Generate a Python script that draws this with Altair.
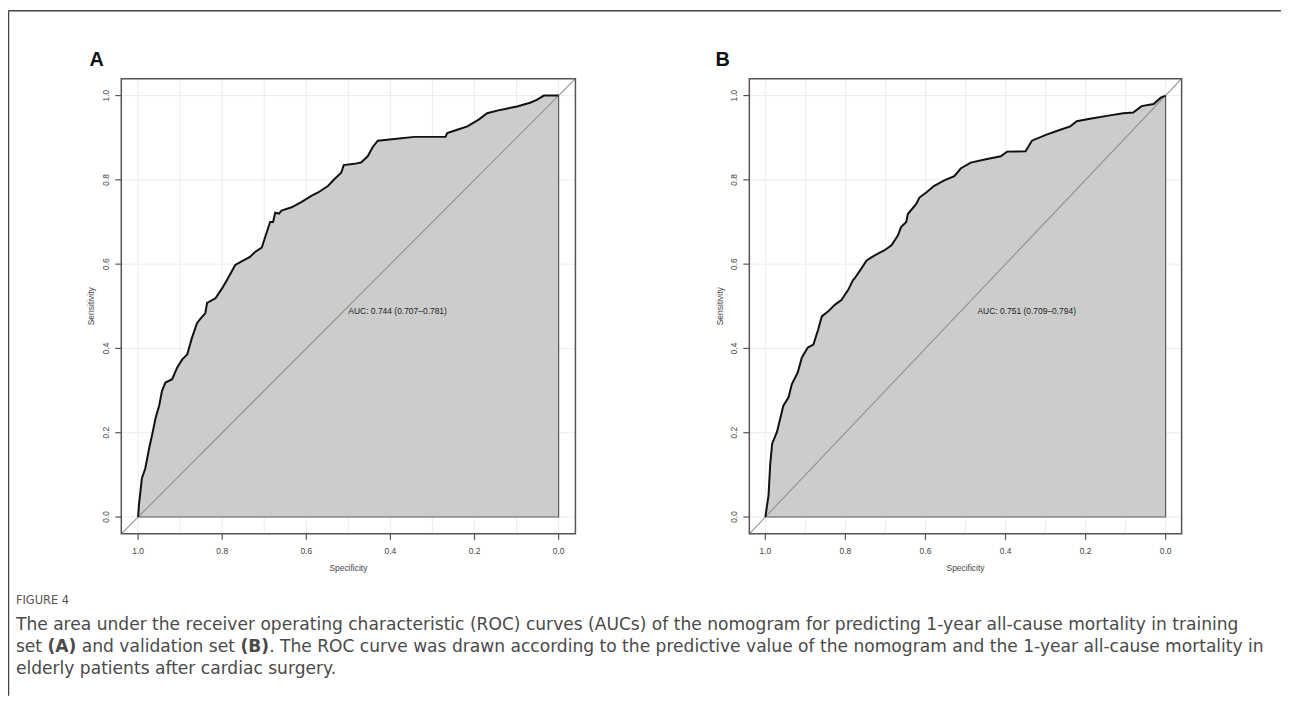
import altair as alt
import pandas as pd

# ---------------- data ----------------
spec_A = [1.000, 0.998, 0.991, 0.983, 0.974, 0.966, 0.958, 0.950, 0.943, 0.935,
          0.919, 0.907, 0.895, 0.883, 0.872, 0.860, 0.852, 0.840, 0.836, 0.816,
          0.800, 0.789, 0.785, 0.769, 0.757, 0.734, 0.722, 0.706, 0.698, 0.686,
          0.679, 0.674, 0.665, 0.659, 0.635, 0.612, 0.588, 0.572, 0.548, 0.533,
          0.517, 0.511, 0.486, 0.470, 0.454, 0.442, 0.430, 0.391, 0.343, 0.269,
          0.265, 0.241, 0.217, 0.190, 0.170, 0.139, 0.099, 0.068, 0.052, 0.035,
          0.000]
sens_A = [0.000, 0.029, 0.092, 0.115, 0.162, 0.198, 0.237, 0.264, 0.300, 0.319,
          0.327, 0.355, 0.374, 0.386, 0.425, 0.460, 0.470, 0.484, 0.508, 0.519,
          0.543, 0.562, 0.569, 0.598, 0.605, 0.617, 0.629, 0.639, 0.664, 0.700,
          0.700, 0.722, 0.720, 0.727, 0.735, 0.747, 0.762, 0.770, 0.786, 0.802,
          0.817, 0.835, 0.838, 0.841, 0.856, 0.878, 0.893, 0.897, 0.902, 0.902,
          0.911, 0.919, 0.927, 0.943, 0.958, 0.966, 0.974, 0.983, 0.990, 1.000,
          1.000]

spec_B = [1.000, 0.992, 0.988, 0.983, 0.971, 0.963, 0.955, 0.942, 0.934, 0.919,
          0.909, 0.894, 0.880, 0.868, 0.859, 0.843, 0.826, 0.810, 0.793, 0.781,
          0.777, 0.760, 0.747, 0.727, 0.702, 0.685, 0.669, 0.661, 0.648, 0.644,
          0.623, 0.615, 0.598, 0.578, 0.553, 0.528, 0.512, 0.487, 0.449, 0.412,
          0.396, 0.350, 0.334, 0.296, 0.263, 0.238, 0.222, 0.189, 0.139, 0.106,
          0.081, 0.060, 0.030, 0.012, 0.000]
sens_B = [0.000, 0.052, 0.123, 0.174, 0.202, 0.233, 0.264, 0.284, 0.315, 0.343,
          0.378, 0.402, 0.409, 0.445, 0.476, 0.488, 0.504, 0.515, 0.539, 0.562,
          0.566, 0.590, 0.609, 0.621, 0.633, 0.645, 0.668, 0.688, 0.700, 0.719,
          0.743, 0.758, 0.770, 0.786, 0.799, 0.809, 0.827, 0.841, 0.849, 0.856,
          0.867, 0.868, 0.893, 0.908, 0.919, 0.927, 0.939, 0.945, 0.953, 0.958,
          0.960, 0.975, 0.980, 0.995, 1.000]

tick_values = [0.0, 0.2, 0.4, 0.6, 0.8, 1.0]
tick_labels = ["0.0", "0.2", "0.4", "0.6", "0.8", "1.0"]
vgrid_values = [0.0, 0.1, 0.2, 0.3, 0.4, 0.5, 0.6, 0.7, 0.8, 0.9, 1.0]
hgrid_values = [0.0, 0.2, 0.4, 0.6, 0.8, 1.0]
axis_domain = [-0.04, 1.04]

auc_A = "AUC: 0.744 (0.707\u20130.781)"
auc_B = "AUC: 0.751 (0.709\u20130.794)"
auc_pos_A = (0.50, 0.489)
auc_pos_B = (0.47, 0.489)

x_title = "Specificity"
y_title = "Sensitivity"

caption_head = "FIGURE 4"
caption_line1 = ("The area under the receiver operating characteristic (ROC) curves (AUCs) of the "
                 "nomogram for predicting 1-year all-cause mortality in training")
caption_line2_parts = [("set", "normal"), ("(A)", "bold"), ("and validation set", "normal"),
                       ("(B)", "bold"),
                       (". The ROC curve was drawn according to the predictive value of the nomogram "
                        "and the 1-year all-cause mortality in", "normal")]
caption_line3 = "elderly patients after cardiac surgery."

# ---------------- layout ----------------
W, H = 1281, 690
BOX_TOP, BOX_BOT = 69, 527
PANEL_A_BOX = (114, 571)
PANEL_B_BOX = (746, 1181)
AXIS_FONT = "Liberation Sans"
CAP_FONT = "DejaVu Sans"
CAP_SIZE = 17.2
one = pd.DataFrame({"k": [0]})


def panel(spec, sens, box, auc_text, auc_pos, label, label_x):
    x0, x1 = box
    xs = alt.Scale(domain=[axis_domain[1], axis_domain[0]], range=[x0, x1], nice=False, zero=False)
    ys = alt.Scale(domain=axis_domain, range=[BOX_BOT, BOX_TOP], nice=False, zero=False)

    def X(f):
        return alt.X(f, scale=xs, axis=None)

    def Y(f):
        return alt.Y(f, scale=ys, axis=None)

    roc = pd.DataFrame({"spec": spec, "sens": sens, "i": list(range(len(spec)))})
    roc["base"] = 0.0
    layers = []
    layers.append(alt.Chart(pd.DataFrame({"v": vgrid_values})).mark_rule(color="#ececec", strokeWidth=1)
                  .encode(x=X("v:Q"), y=alt.value(BOX_TOP), y2=alt.value(BOX_BOT)))
    layers.append(alt.Chart(pd.DataFrame({"v": hgrid_values})).mark_rule(color="#ececec", strokeWidth=1)
                  .encode(y=Y("v:Q"), x=alt.value(x0), x2=alt.value(x1)))
    layers.append(alt.Chart(roc).mark_area(color="#cccccc", opacity=1)
                  .encode(x=X("spec:Q"), y=Y("sens:Q"), y2="base:Q"))
    edge = pd.DataFrame({"x": [spec[0], spec[-1], spec[-1]],
                         "y": [0.0, 0.0, sens[-1]], "i": [0, 1, 2]})
    layers.append(alt.Chart(edge).mark_line(color="#5a5a5a", strokeWidth=1.2)
                  .encode(x=X("x:Q"), y=Y("y:Q"), order="i:Q"))
    diag = pd.DataFrame({"x": [axis_domain[1], axis_domain[0]],
                         "y": [1 - axis_domain[1], 1 - axis_domain[0]], "i": [0, 1]})
    layers.append(alt.Chart(diag).mark_line(color="#909090", strokeWidth=1.1)
                  .encode(x=X("x:Q"), y=Y("y:Q"), order="i:Q"))
    layers.append(alt.Chart(roc).mark_line(color="#111111", strokeWidth=2)
                  .encode(x=X("spec:Q"), y=Y("sens:Q"), order="i:Q"))
    layers.append(alt.Chart(one).mark_rect(fillOpacity=0, stroke="#555555", strokeWidth=1.5)
                  .encode(x=alt.value(x0), x2=alt.value(x1), y=alt.value(BOX_TOP), y2=alt.value(BOX_BOT)))
    ticks = pd.DataFrame({"t": tick_values, "lab": tick_labels})
    layers.append(alt.Chart(ticks).mark_rule(color="#555555", strokeWidth=1.2)
                  .encode(x=X("t:Q"), y=alt.value(BOX_BOT), y2=alt.value(BOX_BOT + 6)))
    layers.append(alt.Chart(ticks).mark_text(font=AXIS_FONT, fontSize=8.5, color="#444444", baseline="middle")
                  .encode(x=X("t:Q"), y=alt.value(BOX_BOT + 17), text="lab:N"))
    layers.append(alt.Chart(ticks).mark_rule(color="#555555", strokeWidth=1.2)
                  .encode(y=Y("t:Q"), x=alt.value(x0 - 6), x2=alt.value(x0)))
    layers.append(alt.Chart(ticks).mark_text(font=AXIS_FONT, fontSize=8.5, color="#444444", baseline="middle",
                                             angle=270)
                  .encode(y=Y("t:Q"), x=alt.value(x0 - 15), text="lab:N"))
    layers.append(alt.Chart(pd.DataFrame({"p": [0.5], "t": [x_title]}))
                  .mark_text(font=AXIS_FONT, fontSize=8.5, color="#444444", baseline="middle")
                  .encode(x=X("p:Q"), y=alt.value(BOX_BOT + 34), text="t:N"))
    layers.append(alt.Chart(pd.DataFrame({"p": [0.5], "t": [y_title]}))
                  .mark_text(font=AXIS_FONT, fontSize=8.5, color="#444444", baseline="middle", angle=270)
                  .encode(y=Y("p:Q"), x=alt.value(x0 - 30), text="t:N"))
    layers.append(alt.Chart(pd.DataFrame({"x": [auc_pos[0]], "y": [auc_pos[1]], "t": [auc_text]}))
                  .mark_text(font=AXIS_FONT, fontSize=8.5, color="#222222", align="left", baseline="middle")
                  .encode(x=X("x:Q"), y=Y("y:Q"), text="t:N"))
    layers.append(alt.Chart(pd.DataFrame({"t": [label]}))
                  .mark_text(font="Liberation Sans", fontSize=20, fontWeight="bold", color="#111111",
                             align="left", baseline="alphabetic")
                  .encode(x=alt.value(label_x), y=alt.value(56), text="t:N"))
    return layers


layers = []
layers += panel(spec_A, sens_A, PANEL_A_BOX, auc_A, auc_pos_A, "A", 82)
layers += panel(spec_B, sens_B, PANEL_B_BOX, auc_B, auc_pos_B, "B", 712)

# figure frame (top and left edges)
layers.append(alt.Chart(one).mark_rule(color="#444444", strokeWidth=1.5)
              .encode(x=alt.value(0.5), x2=alt.value(W), y=alt.value(0.5)))
layers.append(alt.Chart(one).mark_rule(color="#444444", strokeWidth=1.5)
              .encode(x=alt.value(0.5), y=alt.value(0.5), y2=alt.value(H)))


def cap_text(text, x, y, size=CAP_SIZE, weight="normal", color="#4a4a4a"):
    return (alt.Chart(pd.DataFrame({"t": [text]}))
            .mark_text(font=CAP_FONT, fontSize=size, fontWeight=weight, color=color,
                       align="left", baseline="middle")
            .encode(x=alt.value(x), y=alt.value(y), text="t:N"))


CAP_X = 8
layers.append(cap_text(caption_head, CAP_X, 595, size=11.5, color="#555555"))
layers.append(cap_text(caption_line1, CAP_X, 619))
seg_x = [CAP_X, 39.75, 74.25, 234.0, 262.8]
for (txt, wt), sx in zip(caption_line2_parts, seg_x):
    layers.append(cap_text(txt, sx, 641, weight=wt))
layers.append(cap_text(caption_line3, CAP_X, 663))

chart = (alt.layer(*layers)
         .resolve_scale(x="independent", y="independent")
         .properties(width=W, height=H, autosize=alt.AutoSizeParams(type="none"), padding=0)
         .configure_view(stroke=None))

chart.save("out.html", embed_options={"renderer": "svg", "actions": False})
